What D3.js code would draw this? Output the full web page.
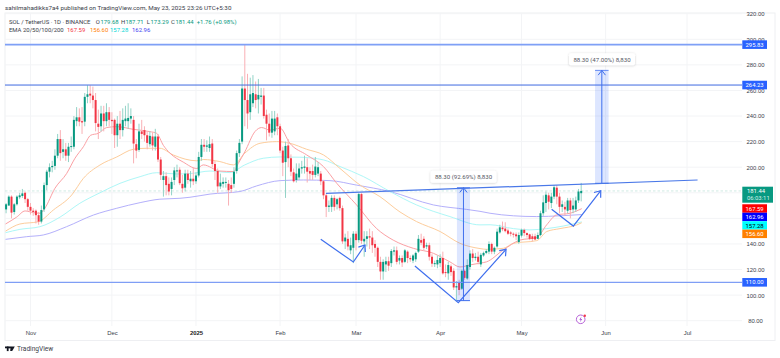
<!DOCTYPE html>
<html><head><meta charset="utf-8">
<script src="https://cdnjs.cloudflare.com/ajax/libs/d3/7.8.5/d3.min.js"></script>
<style>
html,body{margin:0;padding:0;background:#fff;overflow:hidden}
svg{display:block;font-family:Roboto,"Liberation Sans",sans-serif}
.axis path,.axis line{display:none}
.axis text{fill:#3a3e4a;font-size:5.9px}
</style></head><body><svg id="c" width="780" height="358"></svg>
<script>
// Daily candles by month, each row is open, high, low, close. First row is 23 Oct 2024.
const oct24=[[167,172,164,171],[170,178,170,177],[177,178,160,164.5],[165,172,163,171],[171,178,170,177],[176.5,180,175,178],[177.5,183,176,179.5],[180,181,172,175],[175,176,166,169]];
const nov24=[[169,172,163,166],[166,168,162,165],[166,167,156,162.5],[162.5,165,155,157.5],[157.5,170,156,166.5],[167,188,165,186],[186,198,182,196.5],[196.5,203,192,200],[200,205,196,201],[201,214,198,209],
[209,226,207,222],[222,229,205,211],[212,222,207,214],[214,219,205,209],[209,219,204,216],[216,224,212,216.5],[216,240,214,237],[236,247,232,239],[239,246,232,235.6],[236,247,226,235],
[235.6,258,232,255],[255,264,250,257],[257.5,264,250,256],[256,263,246,252.5],[252.5,258,228,234.5],[234,245,222,231.5],[232,248,228,242],[242,248,228,236],[236,250,232,243],[243,247,232,237]];
const dec24=[[237,243,226,236],[237,238,215,225],[225,240,216,234],[234,244,222,229],[229,246,224,237],[236,248,232,238],[236,250,230,238.5],[238,246,234,240],[237,240,203,218.5],[218,222,207,213],
[213.5,234,212,228],[228,237,222,226],[229,232,220,225],[225,228,214,219],[218,228,216,224.5],[224,227,213,217],[216,230,213,224],[224,226,204,206],[206,208,190,194],[190,197,177,193],
[193,196,178,186],[187,192,178,181],[183,192,178,188.5],[190,200,186,197.5],[197,202,192,197.5],[198,200,186,187.5],[187,194,180,183.5],[184,198,181,195],[195,198,187,190],[189,197,184,191],[191,200,186,189]];
const jan25=[[189,196,187,193.5],[193.5,212,192,208],[208,222,205,217.5],[217.5,222,212,216],[216,221,212,217],[215,224,212,218],[218.5,222,200,202.5],[202.5,205,190,197],[197,199,180,185],[185,195,183,188],
[187,192,184,188.5],[188,192,184,188.5],[187,190,170,182],[186,192,180,183],[187,200,184,196.5],[197,213,195,211],[211,222,208,219],[220,271,218,261.5],[261.5,295.8,232,252.5],[252.5,273,230,242],
[243,270,237,257],[250,272,247,258],[257,267,246,252.5],[253,269,242,256.5],[255,262,249,256],[256,262,238,240],[241,245,221,234],[234,242,224,227],[227,244,223,238],[228,244,225,238],[239,242,225,232]];
const feb25=[[232,234,211,213],[213,216,193,203.5],[204,220,176,216.6],[217,222,200,207],[207,210,193,196.5],[196,199,188,189],[190,203,188,195],[192,203,190,199],[199,205,195,200],[199.5,209,195,200.5],
[200,207,188,196.5],[197,200,190,195],[197,202,190,194],[194,208,192,200.5],[195,204,193,200],[195,197,186,189],[189,190,175,178],[178,179,161,169],[169,174,165,170],[169,178,165,176],
[176,178,166,169],[171,176,167,175],[176,177,166,168],[168,170,140,142],[142,148,136,145],[144,150,135,138],[135,145,132,139],[137,150,125,148]];
const mar25=[[148,150,135,143],[143,180,141,179],[179,180,140,142.5],[142,150,130,144],[144,150,138,146],[146,152,136,145],[145,150,133,139],[140,143,130,137],[137,138,122,126],[126,130,112,118.5],
[118.5,128,112,126],[124,130,118,126.5],[126.5,130,119,123],[125,136,122,134.5],[134,138,131,135],[135,138,124,126],[127,131,124,129],[129,131,122,125.5],[126,136,125,135],[134,135,125,129],
[129,131,126,128],[127,132,125,131],[128,134,126,133],[134,147,133,144],[143,148,139,141],[144,146,135,137],[138,141,136,139],[139,141,127,130],[130,132,122,124.6],[125,127,122,125],[124,131,121,127.5]];
const apr25=[[125,132,122,129],[129,134,116,117],[118,124,114,117.5],[117,126,112,123.5],[122.5,124,115,118],[119,121,104,106],[106,111,95,107],[110,112,100,104],[105,120,104,119],[119,120,112,113.5],
[113,128,112,123.5],[122,135,120,132.5],[132.5,136,126,129],[129,133,127,130],[130,134,124,126],[124,133,122,131.5],[131,134,130,133],[133,136,132,134.5],[134,142,132,140],[140,141,132,134],
[134,138,132,137],[138,152,137,149.6],[149,155,148,153],[152.8,157.5,150,151.5],[152,157,149,150],[150.5,152,147,148],[149,150,146,148],[148,149,145,147.5],[147.5,149,143,146],[141.5,149,140,147]];
const may25=[[146.5,152,145,151],[151,152,146,148.5],[148.5,149,145,147],[147.5,148,143,144],[146,148,142,144],[146,148,143,143.5],[144,149,144,147],[147,166,146,164],[164,178,162,172.5],[172,181,165,178.5],
[178,180,167,173],[172,180,168,177],[177,186,175,184.3],[184,186,171,177],[177,180,164,169],[169,174,165,171],[169,173,162,167],[166,176,164,174],[174,176,160,166.5],[167,176,164,170],
[167,177,165,174],[174,183,172,181],[179.68,187.71,173.29,181.44]];
const firstDay = -9; // day numbers count from 1 Nov 2024

const ema20Days=[-9.2,-5.1,-2,1,3.5,5.3,9,13.3,16.4,19.5,22.2,25,28.1,31.8,37.9,44,46.5,49,51.4,56.3,61.3,63.7,69.8,74.8,76.6,79,82.8,85.2,88.3,92,95.6,101.8,108,112.9,120.2,127.6,133.7,141.1,148.5,154.6,158.3,162,165.7,168.1,174.3,180.4,186.6,190.3,193.9,198.9,203.2];
const ema20Vals=[155.6,161,165.8,164.5,164,168,183.5,195,207,216,225,226.5,231,231.7,229.6,227.8,226.5,217,211,204,199,201.8,197,196.6,203,212,228,231,229,230.5,218.7,209.6,200.5,187.4,170.5,152,143,136.6,132.7,126,122,123.6,125,126,135.3,143,145,155,162.7,164,167.59];
const ema50Days=[-9.2,-3.9,2.9,8.4,15.2,19.5,25.6,31.8,37.9,42.8,47.7,52.7,61.3,63.7,69.8,74.8,79,84.6,90.7,95.6,101.8,108,114.1,121.5,128.8,136.2,142.3,151,158.3,165.7,168.1,174.3,178,186.6,190.3,195.2,201.3,203.2];
const ema50Vals=[150,155.6,157.4,166.5,178.3,191.3,201.7,208,214,214.8,214.8,209.5,205,206,204.4,201.8,211,218.7,220,218.7,214,209.6,199,186,177,165,157.5,149.7,140.5,136.4,135.8,136.6,140.5,142.6,149.7,152,154.8,156.6];
const ema100Days=[-9.2,-3.9,3.5,10.9,18.2,25.6,33,40.4,46.5,53.9,58.8,66.2,73.5,79,85.8,92,99.3,108,114.1,122.7,132.5,142.3,154.6,165.7,169.4,178,184.1,190.3,196.4,203.2];
const ema100Vals=[148.8,151.4,153.5,161,171.8,180,187.4,192.6,195.7,194.7,195,197,195.8,201.8,207,208,207.8,205.7,200.5,192.7,181,170.5,161.4,154.9,155,152,151,152,154,157.28];
const ema200Days=[-9.2,-1.4,4.7,13.3,23.2,31.8,40.4,47.7,55.1,58.8,66.2,77.2,83.4,92,100.6,110.4,120.2,132.5,148.5,160.8,165.7,169.4,178,186.6,195.2,203.2];
const ema200Vals=[143.6,145.7,147,153.5,162.6,167.9,172.3,175,175.7,176.5,179,181,185.4,189.5,190,189.5,186,181,170.5,167,165.5,164,162,161.4,162,162.96];

const priceTicks=[80,100,120,140,200,220,240,260,280,300,320];
const priceGrid=[80,100,120,140,160,180,200,220,240,260,280,300,320];
const monthDays=[0,30,61,92,120,151,181,212,242];
const monthNames=["Nov","Dec","2025","Feb","Mar","Apr","May","Jun","Jul"];

const levelPrices=[295.83,264.23,110];
const levelLabels=["295.83","264.23","110.00"];
const trendDays=[108.9,245.9], trendPrices=[179.6,190];
const zigLeftDays=[107,119,123.3], zigLeftPrices=[143.6,125.9,139.2];
const zigMidDays=[141.7,157.7,175.3], zigMidPrices=[122.8,94.1,135.8];
const zigSmallDays=[192.1,200.1,210.2], zigSmallPrices=[167.1,154,181.6];
const measureDayFrom=[157.2,208.1], measureDayTo=[162,213.1];
const measureLow=[95.7,187.4], measureHigh=[184,275.7];
const measureText=["88.30 (92.69%) 8,830","88.30 (47.00%) 8,830"];
const lastPrice=181.44;
const emaLabels=["167.59","162.96","157.28","156.60"];

const candles=[...oct24,...nov24,...dec24,...jan25,...feb25,...mar25,...apr25,...may25];
const x=d3.scaleLinear().domain([0,242]).range([30.5,687]);
const y=d3.scaleLinear().domain([80,320]).range([320.7,13.7]);
const svg=d3.select("#c");
const L=5,R=742,T=13,B=326,FR=775,FB=340.5;
svg.append("defs").append("clipPath").attr("id","p").append("rect").attr("x",L).attr("y",T).attr("width",R-L).attr("height",B-T);
const ds=svg.append("defs").append("filter").attr("id","sh").attr("x","-20%").attr("y","-40%").attr("width","140%").attr("height","200%");
ds.append("feDropShadow").attr("dx",0).attr("dy",0.5).attr("stdDeviation",1.2).attr("flood-color","#000").attr("flood-opacity",0.2);

svg.append("rect").attr("x",L).attr("y",T).attr("width",FR-L).attr("height",FB-T).attr("fill","#fff").attr("stroke","#eeeff2");
const g=svg.append("g").attr("clip-path","url(#p)");
g.selectAll(".h").data(priceGrid).join("line").attr("x1",L).attr("x2",R).attr("y1",d=>y(d)).attr("y2",d=>y(d)).attr("stroke","#f3f4f6");
g.selectAll(".v").data(monthDays).join("line").attr("x1",d=>x(d)).attr("x2",d=>x(d)).attr("y1",T).attr("y2",B).attr("stroke","#f3f4f6");
g.append("line").attr("x1",L).attr("x2",R).attr("y1",y(lastPrice)).attr("y2",y(lastPrice)).attr("stroke","#cfeae3").attr("stroke-dasharray","2.5 2");

const lineOf=(days,vals)=>d3.line().x(i=>x(days[i])).y(i=>y(vals[i])).curve(d3.curveMonotoneX)(d3.range(days.length));
[[ema200Days,ema200Vals,"#b4b0fb"],[ema100Days,ema100Vals,"#aef7f7"],[ema50Days,ema50Vals,"#fdcd9c"],[ema20Days,ema20Vals,"#fba0a4"]].forEach(s=>{
  g.append("path").attr("d",lineOf(s[0],s[1])).attr("fill","none").attr("stroke",s[2]).attr("stroke-width",1);
});

const up=d=>d[3]>=d[0];
g.selectAll(".w").data(candles).join("line")
  .attr("x1",(d,i)=>x(firstDay+i)).attr("x2",(d,i)=>x(firstDay+i)).attr("y1",d=>y(d[1])).attr("y2",d=>y(d[2]))
  .attr("stroke",d=>up(d)?"#93d3c7":"#f9b0b5");
g.selectAll(".b").data(candles).join("rect")
  .attr("x",(d,i)=>x(firstDay+i)-1).attr("width",2)
  .attr("y",d=>y(Math.max(d[0],d[3]))).attr("height",d=>Math.max(1,Math.abs(y(d[0])-y(d[3]))))
  .attr("fill",d=>up(d)?"#089981":"#f23645");

const lvlStyle=[{c:"#7fa0f6",w:1.6},{c:"#3f6ae0",w:1},{c:"#7f9ef5",w:1.4}];
g.selectAll(".l").data(levelPrices).join("line").attr("x1",L).attr("x2",R).attr("y1",d=>y(d)).attr("y2",d=>y(d))
  .attr("stroke",(d,i)=>lvlStyle[i].c).attr("stroke-width",(d,i)=>lvlStyle[i].w);

const BLUE="#3f6fee";
function chevron(px,py,dx,dy,s){const a=Math.atan2(dy,dx),o=0.65;
  return `M${px-s*Math.cos(a-o)},${py-s*Math.sin(a-o)}L${px},${py}L${px-s*Math.cos(a+o)},${py-s*Math.sin(a+o)}`;}
measureText.forEach((t,i)=>{
  const x0=x(measureDayFrom[i]),x1=x(measureDayTo[i]),yt=y(measureHigh[i]),yb=y(measureLow[i]),cx=(x0+x1)/2;
  g.append("rect").attr("x",x0).attr("y",yt).attr("width",x1-x0).attr("height",yb-yt).attr("fill","#2962ff").attr("fill-opacity",0.16);
  g.append("line").attr("x1",cx).attr("x2",cx).attr("y1",yb).attr("y2",yt).attr("stroke",BLUE);
  g.append("path").attr("d",chevron(cx,yt,0,-1,6)).attr("fill","none").attr("stroke",BLUE);
  g.append("line").attr("x1",x0).attr("x2",x1).attr("y1",yt).attr("y2",yt).attr("stroke",BLUE).attr("stroke-width",0.8);
  g.append("line").attr("x1",x0).attr("x2",x1).attr("y1",yb).attr("y2",yb).attr("stroke",BLUE);
  const w=66,h=12,bx=(i==0?430.5:569),by=yt-17;
  g.append("rect").attr("x",bx).attr("y",by).attr("width",w).attr("height",h).attr("rx",2).attr("fill","#fff").attr("filter","url(#sh)");
  g.append("text").attr("x",bx+w/2).attr("y",by+8.4).attr("text-anchor","middle").attr("font-size",6.1).attr("fill","#55585f").text(t);
});

g.append("path").attr("d",d3.line().x(i=>x(trendDays[i])).y(i=>y(trendPrices[i]))([0,1])).attr("fill","none").attr("stroke","#4a78e8").attr("stroke-width",1.2);

[[zigLeftDays,zigLeftPrices],[zigMidDays,zigMidPrices],[zigSmallDays,zigSmallPrices]].forEach(s=>{
  g.append("path").attr("d",d3.line().x(i=>x(s[0][i])).y(i=>y(s[1][i]))([0,1,2])).attr("fill","none").attr("stroke",BLUE).attr("stroke-width",1.2);
  const ex=x(s[0][2]),ey=y(s[1][2]),sx=x(s[0][1]),sy=y(s[1][1]);
  g.append("path").attr("d",chevron(ex,ey,ex-sx,ey-sy,7)).attr("fill","none").attr("stroke",BLUE).attr("stroke-width",1.2);
});

const ax=svg.append("g").attr("class","axis").attr("transform","translate(0,335)")
  .call(d3.axisBottom(x).tickValues(monthDays).tickSize(0).tickPadding(0).tickFormat((d,i)=>monthNames[i]));
ax.selectAll("text").attr("dy",0).attr("y",0).attr("font-weight",(d,i)=>monthNames[i]=="2025"?"700":null).style("fill",(d,i)=>monthNames[i]=="2025"?"#222":"#3a3e4a");
const ay=svg.append("g").attr("class","axis").attr("transform","translate(755.5,0)")
  .call(d3.axisRight(y).tickValues(priceTicks).tickSize(0).tickPadding(0).tickFormat(d3.format(".2f")));
ay.selectAll("text").attr("x",0).attr("text-anchor","middle");

function tag(yc,h,bg,txt,fg){
  svg.append("rect").attr("x",742.3).attr("y",yc-h/2).attr("width",24.7).attr("height",h).attr("fill",bg);
  svg.append("text").attr("x",754.6).attr("y",yc+2.1).attr("text-anchor","middle").attr("font-size",5.9).attr("fill",fg).text(txt);
}
levelPrices.forEach((p,i)=>tag(y(p),8.6,"#2962ff",levelLabels[i],"#fff"));
svg.append("rect").attr("x",742.3).attr("y",186.7).attr("width",30.7).attr("height",16).attr("fill","#089981");
svg.append("text").attr("x",747).attr("y",193.2).attr("font-size",5.9).attr("fill","#fff").text("181.44");
svg.append("text").attr("x",747).attr("y",200.4).attr("font-size",5.9).attr("fill","#d4efe9").text("06:03:11");
const emaBg=["#ff0000","#0000ff","#00ffff","#ff8000"],emaFg=["#fff","#fff","#000","#fff"];
emaLabels.forEach((t,i)=>tag(208.5+i*8.45,8.45,emaBg[i],t,emaFg[i]));

const txt=(xp,yp,s,fill,size,weight)=>svg.append("text").attr("x",xp).attr("y",yp).attr("font-size",size||6).attr("fill",fill).attr("font-weight",weight||null).text(s);
txt(5,10,"sahilmahadikks7a4 published on TradingView.com, May 23, 2025 23:26 UTC+5:30","#3a3e4a",6.25);
txt(9,23.5,"SOL / TetherUS · 1D · BINANCE","#3a3e4a",5.95);
const G="#089981";
[["O",95.7,"#3a3e4a"],["179.68",100.4,G],["H",121,"#3a3e4a"],["187.71",125.4,G],["L",146.7,"#3a3e4a"],["173.29",150.5,G],["C",171,"#3a3e4a"],["181.44",175.4,G],["+1.76 (+0.98%)",196.7,G]].forEach(a=>txt(a[1],23.5,a[0],a[2],5.95));
txt(9,32,"EMA 20/50/100/200","#3a3e4a",5.95);
[["167.59",67,"#f23645"],["156.60",90,"#ff8000"],["157.28",110,"#00d5d5"],["162.96",132,"#4040f0"]].forEach(a=>txt(a[1],32,a[0],a[2],5.95));

const logo=svg.append("g").attr("fill","#131722");
logo.append("rect").attr("x",5).attr("y",346.5).attr("width",5).attr("height",1.8);
logo.append("rect").attr("x",6.8).attr("y",346.5).attr("width",1.8).attr("height",4.6);
logo.append("path").attr("d","M10.6,346.5h4.2l-2.6,4.6h-2z");
logo.append("circle").attr("cx",10.4).attr("cy",347.4).attr("r",0.9);
txt(17,351,"TradingView","#3a3e4a",6.6);

const bd=svg.append("g");
bd.append("circle").attr("cx",580.7).attr("cy",319.3).attr("r",4.3).attr("fill","#fff").attr("stroke","#b863d8").attr("stroke-width",1);
bd.append("path").attr("d","M581.5,316.5L579.3,319.8H580.7L580,322.2L582.2,318.9H580.8Z").attr("fill","#a24ad0");
bd.append("circle").attr("cx",584.8).attr("cy",315.8).attr("r",1.2).attr("fill","#f23645");
</script></body></html>
